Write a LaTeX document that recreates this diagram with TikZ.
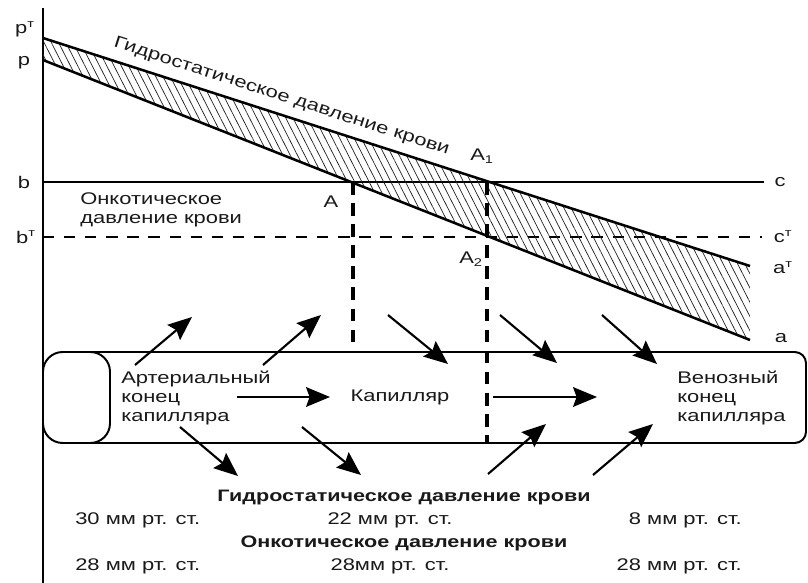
\documentclass[tikz,border=0pt]{standalone}
\usepackage{fontspec}
\setmainfont{Liberation Sans}[FakeStretch=1.3]
\usetikzlibrary{
  arrows.meta,
  patterns.meta,
  positioning
}
\definecolor{linecolor}{RGB}{0, 0, 0}
\definecolor{labelcolor}{RGB}{25, 25, 25}
\definecolor{hatchcolor}{RGB}{30, 30, 30}
\tikzset{
labeltext/.style={
  font=\fontsize{12pt}{13.6pt}\selectfont,
  text=labelcolor,
  inner sep=0pt
},
blocktext/.style={
  labeltext,
  align=left
},
titletext/.style={
  labeltext,
  font=\fontsize{11.8pt}{13.6pt}\selectfont\bfseries
},
axisline/.style={
  draw=linecolor,
  line width=1.4pt
},
pressureline/.style={
  draw=linecolor,
  line width=1.8pt
},
levelline/.style={
  draw=linecolor,
  line width=1.3pt
},
leveldash/.style={
  levelline,
  dash pattern=on 8pt off 7pt
},
cutdash/.style={
  draw=linecolor,
  line width=2.4pt,
  dash pattern=on 9pt off 6pt
},
hatch/.style={
  pattern={Lines[angle=-63,distance=4.6pt,line width=0.5pt]},
  pattern color=hatchcolor
},
vessel/.style={
  draw=linecolor,
  line width=1.4pt
},
flowarrow/.style={
  -{Stealth[length=17pt,width=14pt,inset=2.5pt]},
  line width=1.5pt,
  draw=linecolor
}
}

\begin{document}
\begin{tikzpicture}[x=0.025cm, y=-0.025cm]
  \useasboundingbox (0,0) rectangle (808,583);

  % axis and levels
  \coordinate (axtop) at (43,8);
  \coordinate (axbot) at (43,583);
  \coordinate (bstart) at (43,182);
  \coordinate (bend) at (764,182);
  \coordinate (btstart) at (43,237);
  \coordinate (btend) at (762,237);
  \draw[axisline] (axtop) -- (axbot);
  \draw[levelline] (bstart) -- (bend);
  \draw[leveldash] (btstart) -- (btend);

  % pressure band
  \coordinate (ptop) at (43,38);
  \coordinate (pbot) at (43,60);
  \coordinate (atop) at (750,266);
  \coordinate (abot) at (750,340);
  \fill[hatch] (ptop) -- (atop) -- (abot) -- (pbot) -- cycle;
  \draw[pressureline] (ptop) -- (atop)
    node[labeltext, pos=0.33, sloped, above=6pt] (hydroline) {Гидростатическое давление крови};
  \draw[pressureline] (pbot) -- (abot);

  % axis labels
  \node[labeltext] (lblpt) at (25,29) {p\textsuperscript{т}};
  \node[labeltext] (lblp) at (24,63) {p};
  \node[labeltext] (lblb) at (24,182) {b};
  \node[labeltext] (lblbt) at (26,237) {b\textsuperscript{т}};
  \node[labeltext] (lblc) at (780,182) {c};
  \node[labeltext] (lblct) at (783,237) {c\textsuperscript{т}};
  \node[labeltext] (lblat) at (783,268) {a\textsuperscript{т}};
  \node[labeltext] (lbla) at (781,338) {a};
  \node[blocktext, anchor=west] (oncolevel) at (80,210) {Онкотическое\\давление крови};

  % crossing points
  \coordinate (A) at (353,182);
  \coordinate (Abase) at (353,352);
  \coordinate (Aone) at (487,182);
  \coordinate (Aonebase) at (487,443);
  \draw[cutdash] (A) -- (Abase);
  \draw[cutdash] (Aone) -- (Aonebase);
  \node[labeltext] (lblA) at (331,202) {A};
  \node[labeltext] (lblAone) at (482,156) {A\textsubscript{1}};
  \node[labeltext] (lblAtwo) at (471,259) {A\textsubscript{2}};

  % capillary
  \draw[vessel, rounded corners=8pt] (70,352) -- (806,352) -- (806,443) -- (70,443);
  \draw[vessel, fill=white, rounded corners=14pt] (43,352) rectangle (110,443);
  \node[blocktext, anchor=west] (artend) at (121,398) {Артериальный\\конец\\капилляра};
  \node[labeltext] (capname) at (400,397) {Капилляр};
  \node[blocktext, anchor=west] (venend) at (677,398) {Венозный\\конец\\капилляра};

  % fluid flow
  \foreach \n/\sx/\sy/\ex/\ey in {
    1/135/365/192/317, 2/263/365/321/315, 3/388/315/448/364,
    4/500/315/557/363, 5/602/315/657/364, 6/180/427/238/476,
    7/302/427/361/475, 8/488/474/546/424, 9/593/475/653/424,
    10/237/397/330/397, 11/493/397/597/397}
  {
    \coordinate (fs\n) at (\sx,\sy);
    \coordinate (fe\n) at (\ex,\ey);
    \draw[flowarrow] (fs\n) -- (fe\n);
  }

  % values
  \node[titletext] (hydrotitle) at (404,498) {Гидростатическое давление крови};
  \node[labeltext, anchor=west] (hydroart) at (75,520) {30 мм рт. ст.};
  \node[labeltext] (hydromid) at (390,520) {22 мм рт. ст.};
  \node[labeltext, anchor=east] (hydroven) at (742,520) {8 мм рт. ст.};
  \node[titletext] (oncotitle) at (404,543) {Онкотическое давление крови};
  \node[labeltext, anchor=west] (oncoart) at (75,566) {28 мм рт. ст.};
  \node[labeltext] (oncomid) at (390,566) {28мм рт. ст.};
  \node[labeltext, anchor=east] (oncoven) at (742,566) {28 мм рт. ст.};
\end{tikzpicture}
\end{document}
